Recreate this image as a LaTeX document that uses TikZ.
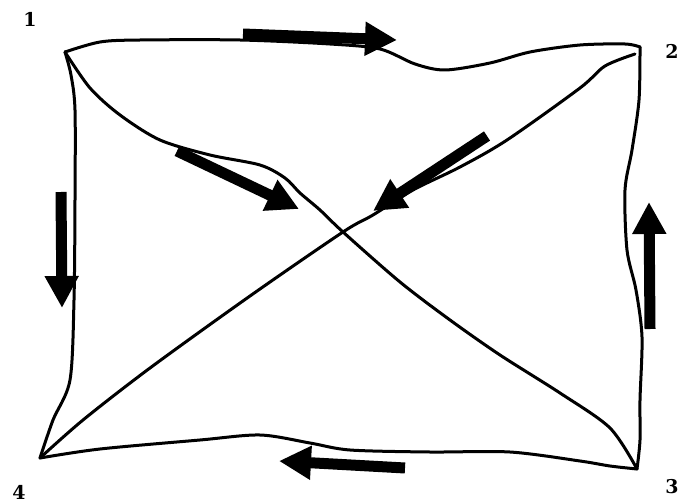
\documentclass[tikz,border=0pt]{standalone}
\usepackage{fontspec}
\newfontfamily\lblfont{DejaVu Serif}
\usetikzlibrary{arrows.meta}
\begin{document}
\begin{tikzpicture}[x=1pt,y=-1pt,
  edge/.style={line width=3pt,line join=round,line cap=round},
  bigarrow/.style={line width=11pt,line cap=butt,-{Triangle[length=32pt,width=32pt]}},
  lbl/.style={font=\lblfont\bfseries\fontsize{19}{19}\selectfont,inner sep=0pt}]
\useasboundingbox (0,0) rectangle (680,503);
\fill[white] (0,0) rectangle (680,503);
% corners
\coordinate (c1) at (65,52);
\coordinate (c2) at (640,47);
\coordinate (c3) at (637,469);
\coordinate (c4) at (40,458);
\coordinate (x) at (343,232);
% labels
\node[lbl] (l1) at (30,19) {1};
\node[lbl] (l2) at (672,51) {2};
\node[lbl] (l3) at (672,487) {3};
\node[lbl] (l4) at (19,492) {4};
% edges
\draw[edge] plot[smooth,tension=0.5] coordinates {(c1) (100,42) (140,40) (240,40) (330,44) (380,49) (415,64) (445,70) (490,63) (530,52) (580,45) (625,44) (c2)};
\draw[edge] plot[smooth,tension=0.5] coordinates {(c2) (639,100) (632,150) (625,190) (627,250) (636,290) (642,337) (640,400) (640,440) (c3)};
\draw[edge] plot[smooth,tension=0.5] coordinates {(c4) (100,449) (200,440) (260,435) (310,443) (350,450) (430,452) (510,452) (580,461) (610,466) (c3)};
\draw[edge] plot[smooth,tension=0.5] coordinates {(c1) (71,75) (75,110) (75,200) (74,300) (70,380) (53,420) (c4)};
\draw[edge] plot[smooth,tension=0.5] coordinates {(c1) (90,88) (120,115) (160,140) (210,155) (260,165) (285,178) (300,193) (320,210) (x) (400,282) (450,320) (500,355) (560,393) (610,428) (c3)};
\draw[edge] plot[smooth,tension=0.5] coordinates {(635,54) (605,66) (580,88) (507,140) (460,167) (413,190) (373,215) (x) (250,296) (150,368) (83,420) (c4)};
% flow arrows
\coordinate (at1) at (243,34); \coordinate (ah1) at (397,40);
\coordinate (at2) at (177,151); \coordinate (ah2) at (299,209);
\coordinate (at3) at (487,136); \coordinate (ah3) at (373,211);
\coordinate (at4) at (61,192); \coordinate (ah4) at (62,308);
\coordinate (at5) at (650,329); \coordinate (ah5) at (649,202);
\coordinate (at6) at (405,468); \coordinate (ah6) at (279,461);
\draw[bigarrow] (at1) -- (ah1);
\draw[bigarrow] (at2) -- (ah2);
\draw[bigarrow] (at3) -- (ah3);
\draw[bigarrow] (at4) -- (ah4);
\draw[bigarrow] (at5) -- (ah5);
\draw[bigarrow] (at6) -- (ah6);
\end{tikzpicture}
\end{document}
